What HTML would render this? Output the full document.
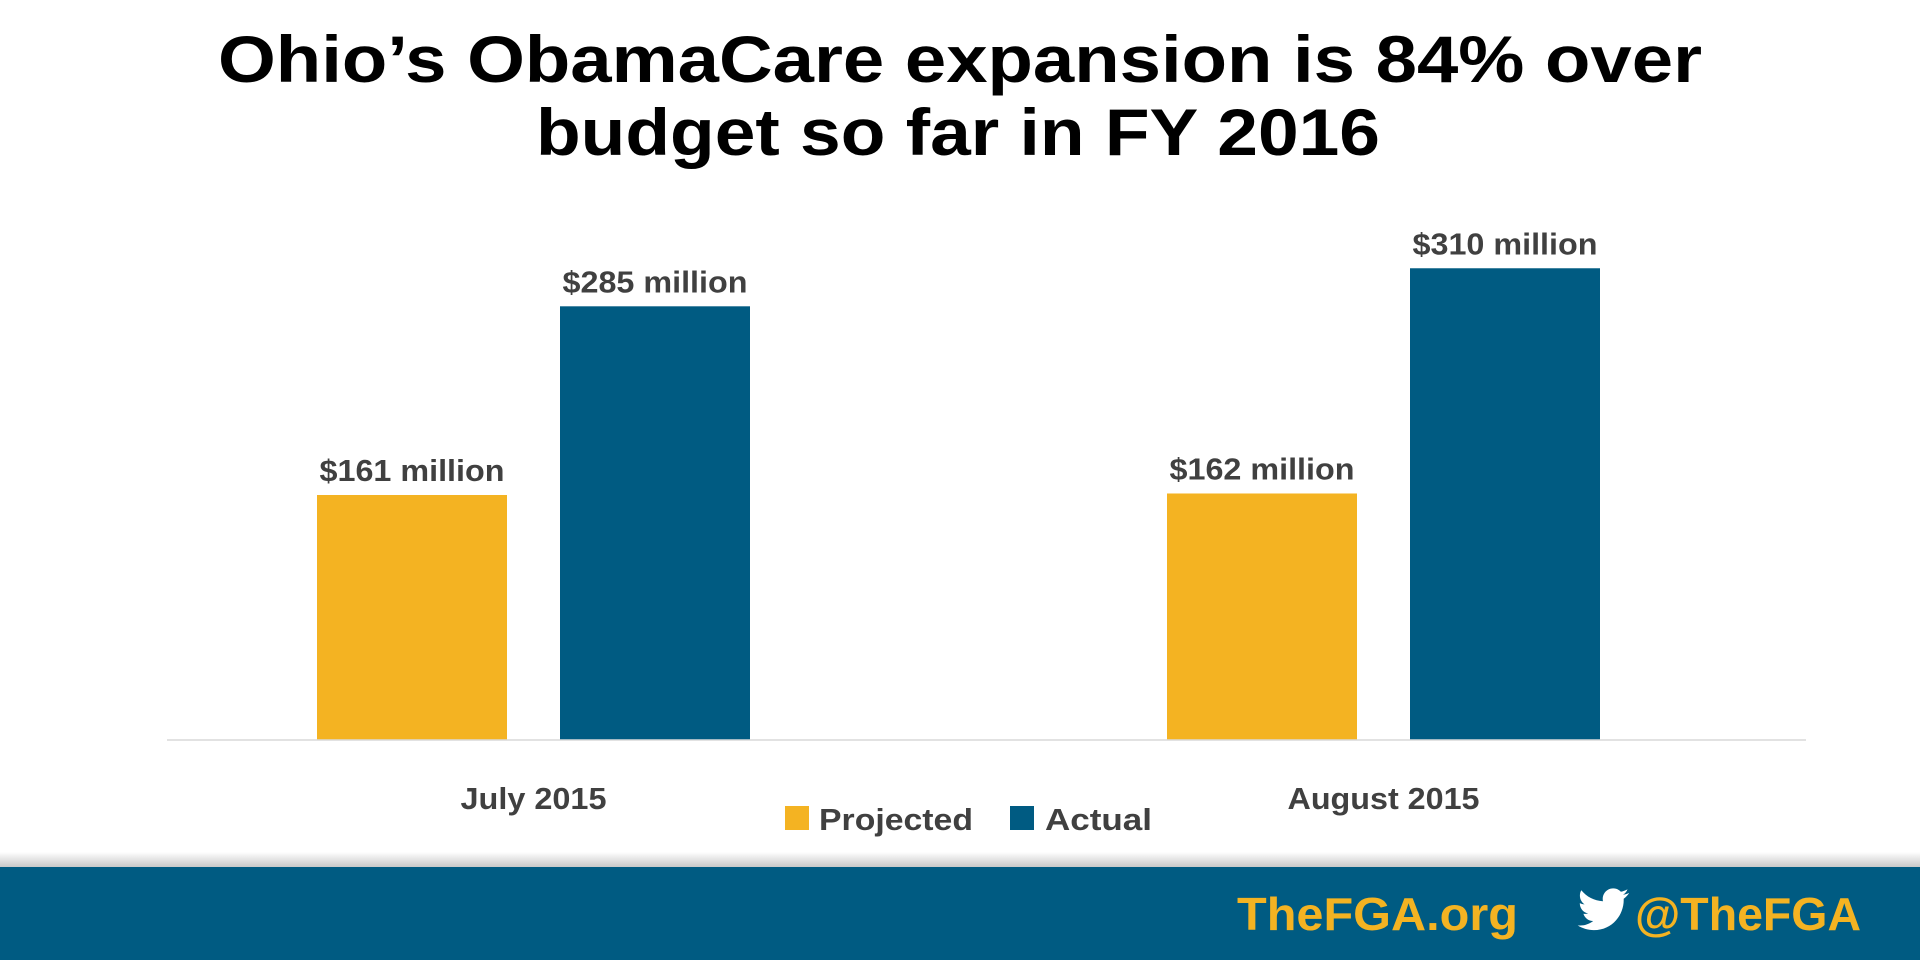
<!DOCTYPE html>
<html><head><meta charset="utf-8">
<style>
html,body{margin:0;padding:0;background:#fff;}
svg{display:block;font-family:"Liberation Sans",sans-serif;}
</style></head>
<body>
<svg id="chart" width="1920" height="960" viewBox="0 0 1920 960">
  <text x="960" y="82" text-anchor="middle" font-size="66" font-weight="bold" fill="#000" textLength="1484" lengthAdjust="spacingAndGlyphs">Ohio’s ObamaCare expansion is 84% over</text>
  <text x="958" y="155" text-anchor="middle" font-size="66" font-weight="bold" fill="#000" textLength="844" lengthAdjust="spacingAndGlyphs">budget so far in FY 2016</text>
  <g id="bars"></g>
  <line x1="167" y1="740" x2="1806" y2="740" stroke="#d9d9d9" stroke-width="1.5"/>
  <g>
    <rect x="785" y="806" width="24" height="24" fill="#f4b322"/>
    <text x="819" y="830" font-size="31" font-weight="bold" fill="#404040" textLength="154" lengthAdjust="spacingAndGlyphs">Projected</text>
    <rect x="1010" y="806" width="24" height="24" fill="#005b82"/>
    <text x="1045" y="830" font-size="31" font-weight="bold" fill="#404040" textLength="107" lengthAdjust="spacingAndGlyphs">Actual</text>
  </g>
  <defs><linearGradient id="sh" x1="0" y1="0" x2="0" y2="1"><stop offset="0" stop-color="#fff"/><stop offset="1" stop-color="#c8c8c8"/></linearGradient></defs>
  <rect x="0" y="852" width="1920" height="15" fill="url(#sh)"/>
  <rect x="0" y="867" width="1920" height="93" fill="#005b82"/>
  <text x="1237" y="930" font-size="46" font-weight="bold" fill="#f4b322" textLength="281" lengthAdjust="spacingAndGlyphs">TheFGA.org</text>
  <path d="M1629,893c-2,1-4,1.5-6,1.8c2-1.3,3.8-3.3,4.5-5.6c-2,1.2-4.3,2-6.6,2.5c-2-2-4.7-3.3-7.7-3.3c-5.8,0-10.5,4.7-10.5,10.5c0,.8.1,1.6.3,2.4c-8.7-.4-16.5-4.6-21.7-11c-.9,1.6-1.4,3.4-1.4,5.3c0,3.6,1.900,6.9,4.7,8.8c-1.7-.1-3.3-.5-4.8-1.3v.1c0,5.1,3.6,9.4,8.4,10.3c-.9.2-1.8.4-2.8.4c-.7,0-1.3-.1-2-.2c1.3,4.2,5.2,7.3,9.8,7.3c-3.6,2.8-8.1,4.5-13,4.5c-.8,0-1.7,0-2.5-.1c4.6,3,10.2,4.7,16.1,4.7c19.3,0,29.9-16,29.9-29.9v-1.4c2-1.5,3.8-3.3,5.2-5.4z" fill="#fff"/>
  <text x="1635" y="930" font-size="46" font-weight="bold" fill="#f4b322" textLength="226" lengthAdjust="spacingAndGlyphs">@TheFGA</text>
</svg>
<script>
const categories = ["July 2015", "August 2015"];
const projected = [161, 162];
const actual = [285, 310];
const valueLabels = [["$161 million","$285 million"],["$162 million","$310 million"]];

const baseY = 740, pxPerUnit = 245/161;
const y = v => baseY - v * pxPerUnit;
const groupLeft = [317, 1167], barW = 190, gap = 243;
const catLen = [146, 192];
const ns = "http://www.w3.org/2000/svg";
const g = document.getElementById("bars");
categories.forEach((c, i) => {
  [[projected[i], "#f4b322", "projected"], [actual[i], "#005b82", "actual"]].forEach((s, j) => {
    const x = groupLeft[i] + j * gap;
    const r = document.createElementNS(ns, "rect");
    r.setAttribute("x", x); r.setAttribute("y", y(s[0]));
    r.setAttribute("width", barW); r.setAttribute("height", baseY - y(s[0]));
    r.setAttribute("fill", s[1]);
    
    
    g.appendChild(r);
    const t = document.createElementNS(ns, "text");
    t.setAttribute("x", x + barW / 2); t.setAttribute("y", y(s[0]) - 14);
    t.setAttribute("text-anchor", "middle"); t.setAttribute("font-size", "31");
    t.setAttribute("font-weight", "bold"); t.setAttribute("fill", "#404040");
    t.setAttribute("textLength", "185"); t.setAttribute("lengthAdjust", "spacingAndGlyphs");
    t.textContent = valueLabels[i][j];
    
    
    g.appendChild(t);
  });
  const cl = document.createElementNS(ns, "text");
  cl.setAttribute("x", groupLeft[i] + (gap + barW) / 2); cl.setAttribute("y", 809);
  cl.setAttribute("text-anchor", "middle"); cl.setAttribute("font-size", "31");
  cl.setAttribute("font-weight", "bold"); cl.setAttribute("fill", "#404040");
  cl.setAttribute("textLength", catLen[i]); cl.setAttribute("lengthAdjust", "spacingAndGlyphs");
  cl.textContent = c;
  
  
  g.appendChild(cl);
});
</script>
</body></html>
